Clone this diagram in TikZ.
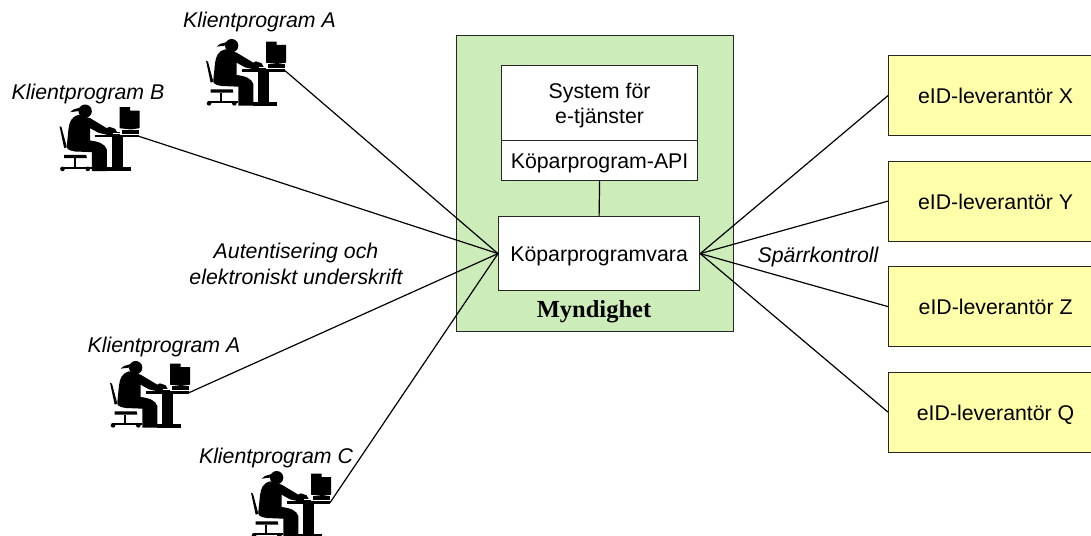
\documentclass[tikz,border=0pt]{standalone}
\usepackage{fontspec}
\setmainfont{Liberation Sans}
\newfontfamily\serifb{Liberation Serif}
\definecolor{grn}{HTML}{CCECBA}
\definecolor{yel}{HTML}{FFFFAA}
\tikzset{
 x=1pt,y=-1pt,
 boxn/.style={draw=black!85,line width=1.2pt,rectangle,inner sep=0pt,align=center,font=\fontsize{21.3}{25}\selectfont},
 oneline/.style={text height=18pt,text depth=2pt},
 wbox/.style={boxn,fill=white},
 ybox/.style={boxn,oneline,fill=yel,minimum width=214pt,minimum height=80pt},
 lab/.style={font=\fontsize{21.3}{26}\selectfont\itshape,align=center,inner sep=0pt},
 conn/.style={line width=1.2pt,draw=black},
 user/.pic={
  \begin{scope}[scale=1/3]
  \fill (125,17) circle (20);
  \fill (80,20) -- (90,12) -- (110,6) -- (112,16) -- (95,18) -- cycle;
  \fill (105,28) -- (140,38) -- (190,68) -- (198,64) -- (215,70) -- (224,86) -- (195,89) -- (165,82) -- (140,68) -- (140,105)
     .. controls (165,108) and (185,115) .. (190,132) -- (190,197) -- (145,197) -- (145,140) -- (95,138)
     .. controls (75,135) and (68,130) .. (70,120) -- (75,70) .. controls (78,50) and (82,35) .. (105,28) -- cycle;
  \fill (48,62) -- (54,65) -- (70,125) -- (62,128) -- cycle;
  \fill (62,148) -- (128,148) -- (130,158) -- (62,158) -- cycle;
  \fill (90,158) rectangle (97,184);
  \fill (55,183) rectangle (145,190);
  \fill (57,190) circle (7); \fill (133,190) circle (7);
  \fill (228,5) -- (260,5) -- (260,15) -- (288,15) -- (288,68) -- (262,72) -- (228,68) -- cycle;
  \fill (235,72) rectangle (285,85);
  \fill (205,80) rectangle (228,87);
  \fill[white] (208,82) rectangle (228,85);
  \fill (155,87) rectangle (285,95);
  \fill (205,95) rectangle (238,186);
  \fill (190,185) rectangle (262,197);
  \coordinate (-plug) at (285,92);
  \end{scope}
 }
}
\begin{document}
\begin{tikzpicture}
\useasboundingbox (0,0) rectangle (1091,535);
\clip (0,0) rectangle (1091,535);
\node[boxn,fill=grn,minimum width=277pt,minimum height=296pt,anchor=north west] (org) at (456,35) {};
\node[wbox,minimum width=196pt,minimum height=75pt,anchor=north west] (sys) at (501,65) {\rule{0pt}{20pt}System för\\e-tjänster};
\node[wbox,oneline,minimum width=196pt,minimum height=40pt,anchor=north west] (api) at (501,140) {Köparprogram-API};
\node[wbox,oneline,minimum width=201pt,minimum height=74pt,anchor=north west] (sw) at (498,216) {Köparprogramvara};
\node[inner sep=0pt,font=\fontsize{24.5}{28}\selectfont\serifb\bfseries] (my) at (594,312) {Myndighet};
\draw[conn] (api.south) -- (sw.north);
\node[ybox,anchor=north west] (x) at (888,55) {eID-leverantör X};
\node[ybox,anchor=north west] (y) at (888,160.5) {eID-leverantör Y};
\node[ybox,anchor=north west] (z) at (888,266) {eID-leverantör Z};
\node[ybox,anchor=north west] (q) at (888,371.5) {eID-leverantör Q};
\foreach \t in {x,y,z,q}{\draw[conn] (sw.east) -- (\t.west);}
\pic (ua) at (190,40) {user};
\pic (ub) at (43.5,105.5) {user};
\pic (uc) at (94,362) {user};
\pic (ud) at (235,472) {user};
\foreach \t in {ua,ub,uc,ud}{\draw[conn] (\t-plug) -- (sw.west);}
\node[lab] (la) at (259.5,22) {Klientprogram A};
\node[lab] (lb) at (88,93.5) {Klientprogram B};
\node[lab] (lc) at (164,347) {Klientprogram A};
\node[lab] (ld) at (276,458) {Klientprogram C};
\node[lab] (le) at (296,264) {Autentisering och\\elektroniskt underskrift};
\node[lab] (lf) at (818,257) {Spärrkontroll};
\end{tikzpicture}
\end{document}
